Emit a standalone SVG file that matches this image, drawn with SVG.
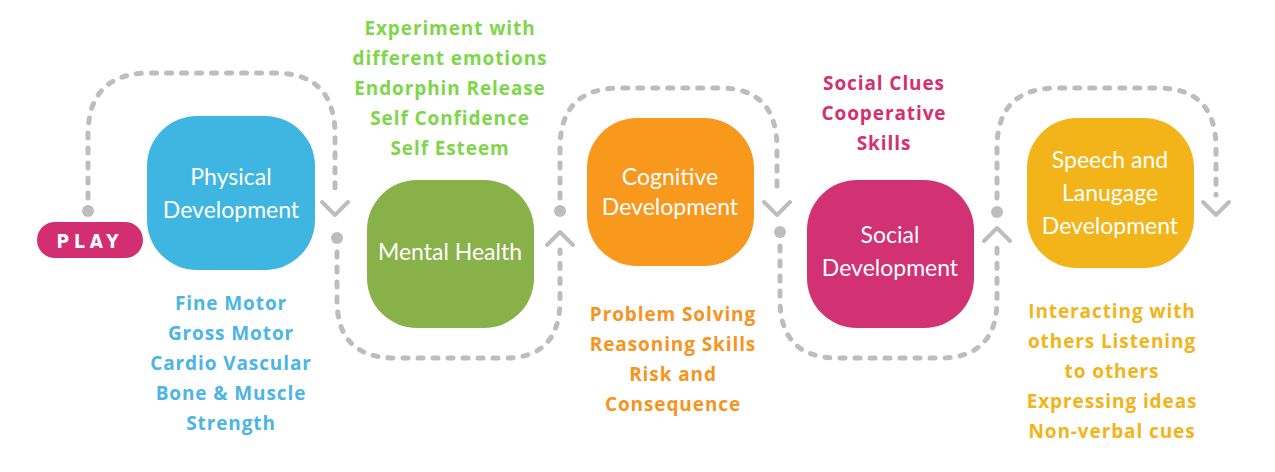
<svg xmlns="http://www.w3.org/2000/svg" width="1275" height="472" viewBox="0 0 1275 472">
<style>
.box text{font-family:"Lato","Open Sans",sans-serif;font-size:23px;fill:#fff;text-anchor:middle}
.lbl{font-family:"Open Sans","Lato",sans-serif;font-weight:bold;font-size:19px;letter-spacing:0.9px;text-anchor:middle}
.dash{fill:none;stroke:#bdbdbd;stroke-width:5;stroke-linecap:round;stroke-dasharray:5 10}
.chev{fill:none;stroke:#bdbdbd;stroke-width:4;stroke-linecap:round;stroke-linejoin:round}
.dot{fill:#bdbdbd}
</style>
<rect width="1275" height="472" fill="#fff"/>
<g id="connectors">
<path class="dash" d="M88,198 V135 Q88,73 150,73 H275 Q335,73 335,135 V195"/>
<path class="chev" d="M322,202 L335,215 L348,202"/>
<circle class="dot" cx="88" cy="211" r="6"/>
<path class="dash" d="M337,252 V300 Q337,358 395,358 H505 Q560,358 560,300 V250"/>
<path class="chev" d="M547,245 L560,232 L573,245"/>
<circle class="dot" cx="337" cy="238" r="6"/>
<path class="dash" d="M560,198 V148 Q560,88 620,88 H720 Q777,88 777,148 V195"/>
<path class="chev" d="M764,202 L777,215 L790,202"/>
<circle class="dot" cx="560" cy="211" r="6"/>
<path class="dash" d="M780,246 V300 Q780,358 838,358 H940 Q997,358 997,300 V248"/>
<path class="chev" d="M984,241 L997,228 L1010,241"/>
<circle class="dot" cx="780" cy="232" r="6"/>
<path class="dash" d="M997,198 V148 Q997,88 1057,88 H1158 Q1216,88 1216,148 V195"/>
<path class="chev" d="M1203,202 L1216,215 L1229,202"/>
<circle class="dot" cx="997" cy="212" r="6"/>
</g>
<g id="play"><rect x="37" y="222" width="106" height="36" rx="18" fill="#d32e72"/><text x="90" y="248" font-family="'DejaVu Sans Condensed','Liberation Sans',sans-serif" font-weight="bold" font-size="19" fill="#fff" text-anchor="middle" letter-spacing="5">PLAY</text></g>
<g id="physical" class="box"><rect x="147" y="116" width="168" height="154" rx="50" fill="#3fb6e1"/><text x="231" y="185">Physical</text><text x="231" y="218">Development</text></g>
<g id="mental" class="box"><rect x="367" y="180" width="167" height="148" rx="50" fill="#88b14a"/><text x="450" y="260">Mental Health</text></g>
<g id="cognitive" class="box"><rect x="587" y="118" width="167" height="148" rx="50" fill="#f8981d"/><text x="670" y="185" font-size="21">Cognitive</text><text x="670" y="215" font-size="21">Development</text></g>
<g id="social" class="box"><rect x="807" y="180" width="167" height="148" rx="50" fill="#d23174"/><text x="890" y="243">Social</text><text x="890" y="276">Development</text></g>
<g id="speech" class="box"><rect x="1027" y="118" width="167" height="150" rx="50" fill="#f2b418"/><text x="1110" y="168">Speech and</text><text x="1110" y="201">Lanugage</text><text x="1110" y="234">Development</text></g>
<g id="labels">
<text class="lbl" fill="#7ed64a"><tspan x="450" y="35">Experiment with</tspan><tspan x="450" y="65">different emotions</tspan><tspan x="450" y="95">Endorphin Release</tspan><tspan x="450" y="125">Self Confidence</tspan><tspan x="450" y="155">Self Esteem</tspan></text>
<text class="lbl" fill="#4bb5e4"><tspan x="231" y="310">Fine Motor</tspan><tspan x="231" y="340">Gross Motor</tspan><tspan x="231" y="370">Cardio Vascular</tspan><tspan x="231" y="400">Bone &amp; Muscle</tspan><tspan x="231" y="430">Strength</tspan></text>
<text class="lbl" fill="#f7941d"><tspan x="673" y="321">Problem Solving</tspan><tspan x="673" y="351">Reasoning Skills</tspan><tspan x="673" y="381">Risk and</tspan><tspan x="673" y="411">Consequence</tspan></text>
<text class="lbl" fill="#d4306f"><tspan x="884" y="90">Social Clues</tspan><tspan x="884" y="120">Cooperative</tspan><tspan x="884" y="150">Skills</tspan></text>
<text class="lbl" fill="#f2b418"><tspan x="1112" y="318">Interacting with</tspan><tspan x="1112" y="348">others Listening</tspan><tspan x="1112" y="378">to others</tspan><tspan x="1112" y="408">Expressing ideas</tspan><tspan x="1112" y="438">Non-verbal cues</tspan></text>
</g>
</svg>
